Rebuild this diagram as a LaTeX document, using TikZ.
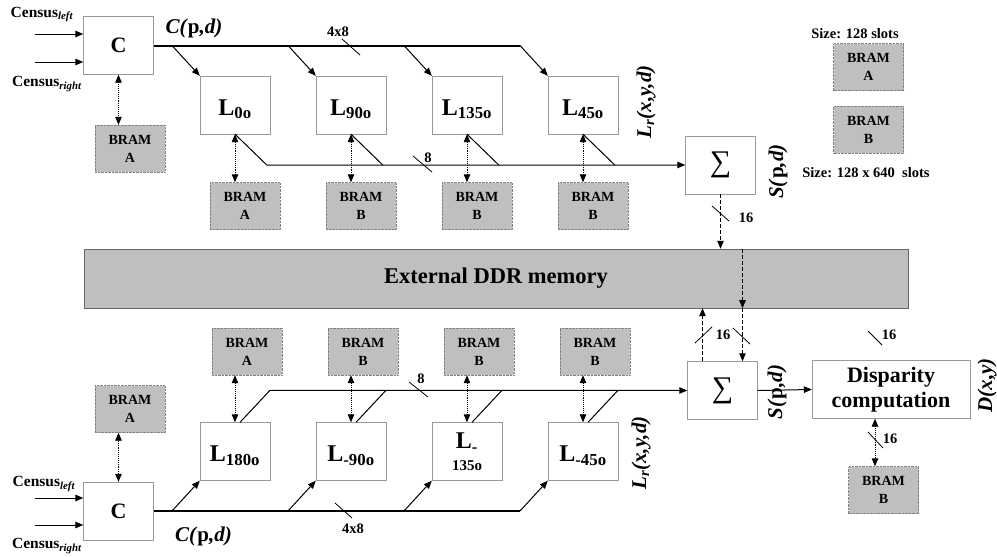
\documentclass[tikz,border=0pt]{standalone}
\usepackage{fontspec}
\setmainfont{Liberation Serif}
\usetikzlibrary{arrows.meta}

\begin{document}
\begin{tikzpicture}[x=1pt, y=-1pt, node distance=116pt, auto,
    >={Triangle[length=8pt,width=6.5pt]},
    box/.style={draw=black!40, fill=white, minimum width=70pt, minimum height=58pt, inner sep=1pt, align=center},
    cbox/.style={box, font=\bfseries\fontsize{22}{22}\selectfont},
    lbox/.style={box, text height=24pt, text depth=4pt, font=\bfseries\fontsize{24}{24}\selectfont},
    sumbox/.style={box, font=\fontsize{30}{30}\selectfont},
    bram/.style={draw=black!50, densely dotted, fill=black!25, minimum width=70pt, minimum height=47pt, inner sep=0pt, align=center, font=\bfseries\fontsize{14}{18}\selectfont},
    lbl/.style={inner sep=0pt, font=\bfseries\fontsize{21}{21}\selectfont},
    small/.style={inner sep=0pt, font=\bfseries\fontsize{14.5}{14.5}\selectfont},
    census/.style={inner sep=0pt, font=\bfseries\fontsize{15.5}{16}\selectfont},
    bus/.style={line width=2pt},
    wire/.style={line width=1pt},
    tick/.style={line width=0.8pt},
    memlink/.style={<->, line width=0.9pt, densely dotted},
    ddrlink/.style={->, line width=1pt, dash pattern=on 4pt off 2pt},
    ]
    \useasboundingbox (0,0) rectangle (997,557);
    %Nodes, upper half
    \node[cbox] (ctop) at (118.5,45.5) {C};
    \node[bram] (cbrama) at (130,148.5) {BRAM\\A};
    \node[census] (cleft) at (42,14.5) {Census\textsubscript{\textit{left}}};
    \node[census] (cright) at (47,84) {Census\textsubscript{\textit{right}}};
    \node[lbl] (cpd) at (194,28.5) {\textit{C(}p\textit{,d)}};
    \node[lbox] (l0) at (235,105) {L\textsubscript{0o}};
    \node[lbox, right of=l0] (l90) {L\textsubscript{90o}};
    \node[lbox, right of=l90] (l135) {L\textsubscript{135o}};
    \node[lbox, right of=l135] (l45) {L\textsubscript{45o}};
    \node[bram, below of=l0, node distance=101pt, xshift=10pt] (b0) {BRAM\\A};
    \node[bram, below of=l90, node distance=101pt, xshift=10pt] (b90) {BRAM\\B};
    \node[bram, below of=l135, node distance=101pt, xshift=10pt] (b135) {BRAM\\B};
    \node[bram, below of=l45, node distance=101pt, xshift=10pt] (b45) {BRAM\\B};
    \node[lbl, rotate=90] (lrtop) at (646,102) {\textit{L\textsubscript{r}(x,y,d)}};
    \node[sumbox] (sumtop) at (720.5,165) {∑};
    \node[lbl, rotate=90] (sptop) at (778,171.5) {\textit{S(}p\textit{,d)}};
    % legend
    \node[small] (size1) at (855,34) {Size: 128 slots};
    \node[bram] (lega) at (868.5,67) {BRAM\\A};
    \node[bram] (legb) at (868.5,129.5) {BRAM\\B};
    \node[small] (size2) at (866,173) {Size: 128 x 640\ \ slots};
    % memory
    \node[draw=black!60, fill=black!25, minimum width=824pt, minimum height=59pt,
      font=\bfseries\fontsize{22.5}{23}\selectfont] (ddr) at (496,278.5) {External DDR memory};
    %Nodes, lower half
    \node[cbox] (cbot) at (118.5,511) {C};
    \node[bram] (cbramb) at (130,409) {BRAM\\A};
    \node[census] (cleftb) at (44,484) {Census\textsubscript{\textit{left}}};
    \node[census] (crightb) at (47,546) {Census\textsubscript{\textit{right}}};
    \node[lbl] (cpdb) at (203.5,536) {\textit{C(}p\textit{,d)}};
    \node[lbox] (l180) at (235,451.5) {L\textsubscript{180o}};
    \node[lbox, right of=l180] (lm90) {L\textsubscript{-90o}};
    \node[box, right of=lm90, font=\bfseries\fontsize{24}{25}\selectfont] (lm135)
      {L\textsubscript{-}\\[-3pt]{\fontsize{15}{15}\selectfont 135o}};
    \node[lbox, right of=lm135] (lm45) {L\textsubscript{-45o}};
    \node[bram, above of=l180, node distance=100pt, xshift=12pt] (b180) {BRAM\\A};
    \node[bram, above of=lm90, node distance=100pt, xshift=12pt] (bm90) {BRAM\\B};
    \node[bram, above of=lm135, node distance=100pt, xshift=12pt] (bm135) {BRAM\\B};
    \node[bram, above of=lm45, node distance=100pt, xshift=12pt] (bm45) {BRAM\\B};
    \node[lbl, rotate=90] (lrbot) at (641,453) {\textit{L\textsubscript{r}(x,y,d)}};
    \node[sumbox] (sumbot) at (722.5,390.5) {∑};
    \node[lbl, rotate=90] (spbot) at (777,392) {\textit{S(}p\textit{,d)}};
    \node[box, minimum width=158pt, font=\bfseries\fontsize{22}{25}\selectfont] (disp) at (891,389.5) {Disparity\\computation};
    \node[lbl, rotate=90] (dxy) at (987,385.5) {\textit{D(x,y)}};
    \node[bram] (dbram) at (883.5,490) {BRAM\\B};
    % Arrows, upper half
    \coordinate (inla) at (35,34);
    \coordinate (inra) at (35,62);
    \draw[wire,->] (inla) -- (inla -| ctop.west);
    \draw[wire,->] (inra) -- (inra -| ctop.west);
    \draw[memlink] (ctop.south) -- (ctop.south |- cbrama.north);
    \coordinate (busa) at (520,45.5);
    \draw[bus] (ctop.east) -- (busa);
    \draw[wire,<-] (l0.north west) -- ++(-28,-30.5);
    \draw[wire,<-] (l90.north west) -- ++(-28,-30.5);
    \draw[wire,<-] (l135.north west) -- ++(-28,-30.5);
    \draw[wire,<-] (l45.north west) -- (busa);
    \draw[wire,->] (l0.south) -- ++(32,31) -- (sumtop.west);
    \draw[wire] (l90.south) -- ++(32,31);
    \draw[wire] (l135.south) -- ++(32,31);
    \draw[wire] (l45.south) -- ++(32,31);
    \draw[memlink] (l0.south) -- (l0.south |- b0.north);
    \draw[memlink] (l90.south) -- (l90.south |- b90.north);
    \draw[memlink] (l135.south) -- (l135.south |- b135.north);
    \draw[memlink] (l45.south) -- (l45.south |- b45.north);
    \draw[ddrlink] (sumtop.south) -- (sumtop.south |- ddr.north);
    % bus widths
    \draw[tick] (342,39) -- ++(18,16);
    \node[small] (w48a) at (338,32) {4x8};
    \draw[tick] (413,156) -- ++(19,16);
    \node[small] (w8a) at (428,158) {8};
    \draw[tick] (712,206) -- ++(17,15);
    \node[small] (w16a) at (746,218) {16};
    % Arrows, lower half
    \coordinate (inlb) at (35,498);
    \coordinate (inrb) at (35,525);
    \draw[wire,->] (inlb) -- (inlb -| cbot.west);
    \draw[wire,->] (inrb) -- (inrb -| cbot.west);
    \draw[memlink] (cbot.north) -- (cbot.north |- cbramb.south);
    \coordinate (busb) at (520,511);
    \draw[bus] (cbot.east) -- (busb);
    \draw[wire,<-] (l180.south west) -- ++(-28,30.5);
    \draw[wire,<-] (lm90.south west) -- ++(-28,30.5);
    \draw[wire,<-] (lm135.south west) -- ++(-28,30.5);
    \draw[wire,<-] (lm45.south west) -- (busb);
    \draw[wire,->] ([xshift=5pt]l180.north) -- ++(30,-32) -- (sumbot.west);
    \draw[wire] ([xshift=5pt]lm90.north) -- ++(30,-32);
    \draw[wire] ([xshift=5pt]lm135.north) -- ++(30,-32);
    \draw[wire] ([xshift=5pt]lm45.north) -- ++(30,-32);
    \draw[memlink] (l180.north) -- (l180.north |- b180.south);
    \draw[memlink] (lm90.north) -- (lm90.north |- bm90.south);
    \draw[memlink] (lm135.north) -- (lm135.north |- bm135.south);
    \draw[memlink] (lm45.north) -- (lm45.north |- bm45.south);
    \coordinate (dn) at ([xshift=20pt]sumbot.north);
    \coordinate (up) at ([xshift=-20pt]sumbot.north);
    \draw[ddrlink] (dn |- ddr.north) -- (dn |- ddr.south);
    \draw[ddrlink] (dn |- ddr.south) -- (dn);
    \draw[ddrlink] (up) -- (up |- ddr.south);
    \draw[wire,->] (sumbot.east) -- (disp.west);
    \coordinate (dl) at ([xshift=-16pt]disp.south);
    \draw[memlink] (dl) -- (dl |- dbram.north);
    % bus widths
    \draw[tick] (335,503) -- ++(17,15);
    \node[small] (w48b) at (353,529) {4x8};
    \draw[tick] (409,382) -- ++(19,15);
    \node[small] (w8b) at (421,379) {8};
    \draw[tick] (695,343) -- ++(17,-16);
    \draw[tick] (733,328) -- ++(17,16);
    \node[small] (w16b) at (723,335) {16};
    \draw[tick] (868,331) -- ++(14,14);
    \node[small] (w16c) at (889,335) {16};
    \draw[tick] (868,432) -- ++(15,16);
    \node[small] (w16d) at (890,439) {16};
\end{tikzpicture}
\end{document}
